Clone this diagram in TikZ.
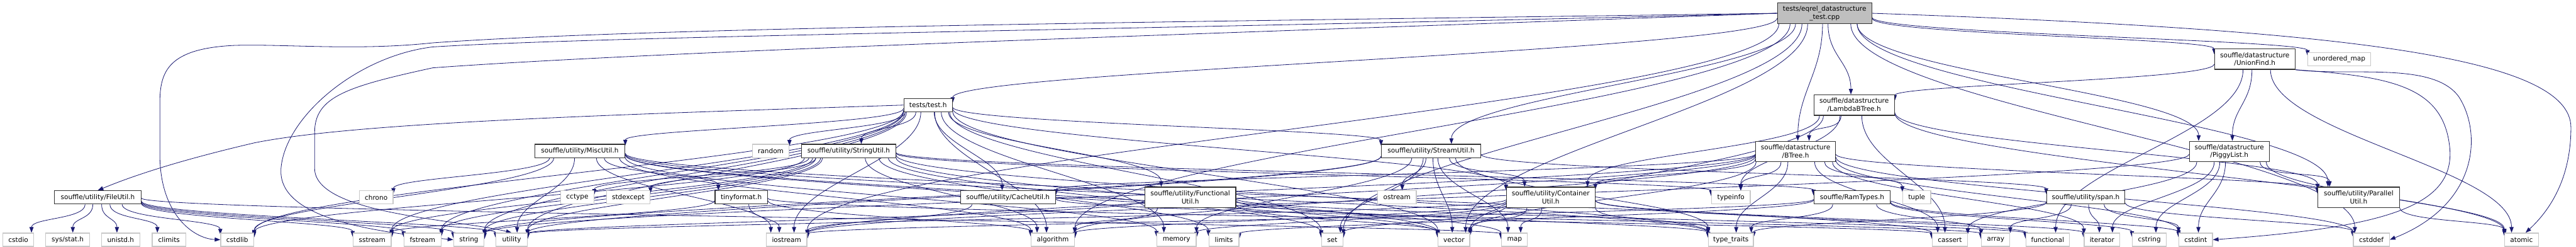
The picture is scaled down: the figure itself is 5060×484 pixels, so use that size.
\documentclass[tikz,border=0pt]{standalone}
\usepackage{fontspec}
\setmainfont{DejaVu Sans}
\usetikzlibrary{arrows.meta,calc}
\pgfdeclarelayer{bg}
\pgfsetlayers{bg,main}
\definecolor{edgec}{HTML}{191970}
\definecolor{sysc}{HTML}{C8C8C8}
\definecolor{rootc}{HTML}{BFBFBF}
\newcommand\nd[6]{\node[#1, minimum width=#4pt, minimum height=#5pt] (#2) at (#3) {#6};}
\begin{document}
\begin{tikzpicture}[x=1pt,y=-1pt,
  base/.style={rectangle, inner sep=0pt, font=\fontsize{13}{15.5}\selectfont, align=center, fill=white, line width=1.5pt},
  hdr/.style={base, draw=black!80},
  sys/.style={base, draw=sysc},
  rootbox/.style={base, draw=black!80, fill=rootc},
  e/.style={draw=edgec, line width=1pt, -{Triangle[length=11pt,width=8pt]}}
]
\useasboundingbox (0,0) rectangle (5060,484);
% rank 0-2
\nd{rootbox}{root}{3584,26}{185}{40}{tests/eqrel\_datastructure\\\_test.cpp}
\nd{hdr}{uf}{4429,116}{158}{40}{souffle/datastructure\\/UnionFind.h}
\nd{sys}{umap}{4595,116}{123}{26}{unordered\_map}
\nd{hdr}{test}{1823,206}{95}{26}{tests/test.h}
\nd{hdr}{lbt}{3642,206}{158}{40}{souffle/datastructure\\/LambdaBTree.h}
% rank 3
\nd{hdr}{misc}{1139,296}{177}{26}{souffle/utility/MiscUtil.h}
\nd{sys}{random}{1514,296}{72}{26}{random}
\nd{hdr}{stru}{1667,296}{185}{26}{souffle/utility/StringUtil.h}
\nd{hdr}{strm}{2811,296}{195}{26}{souffle/utility/StreamUtil.h}
\nd{hdr}{btree}{3527,297}{157}{40}{souffle/datastructure\\/BTree.h}
\nd{hdr}{piggy}{4379,297}{157}{40}{souffle/datastructure\\/PiggyList.h}
% rank 4
\nd{hdr}{file}{192,387}{170}{26}{souffle/utility/FileUtil.h}
\nd{sys}{chrono}{739,387}{66}{26}{chrono}
\nd{sys}{cctype}{1134,387}{65}{26}{cctype}
\nd{sys}{stdexc}{1234,387}{86}{26}{stdexcept}
\nd{hdr}{tiny}{1456,387}{103}{26}{tinyformat.h}
\nd{hdr}{cache}{1980,387}{187}{26}{souffle/utility/CacheUtil.h}
\nd{hdr}{func}{2338,387}{179}{40}{souffle/utility/Functional\\Util.h}
\nd{sys}{ostream}{2744,387}{76}{26}{ostream}
\nd{hdr}{cont}{3046,387}{174}{40}{souffle/utility/Container\\Util.h}
\nd{sys}{typeinfo}{3400,387}{76}{26}{typeinfo}
\nd{hdr}{ram}{3638,387}{150}{26}{souffle/RamTypes.h}
\nd{sys}{tuple}{3765,387}{55}{26}{tuple}
\nd{hdr}{span}{4097,387}{154}{26}{souffle/utility/span.h}
\nd{hdr}{par}{4633,387}{160}{40}{souffle/utility/Parallel\\Util.h}
% rank 5
\nd{sys}{cstdio}{36,470}{61}{26}{cstdio}
\nd{sys}{sysstat}{133,470}{86}{26}{sys/stat.h}
\nd{sys}{unistd}{237,470}{75}{26}{unistd.h}
\nd{sys}{climits}{332,470}{66}{26}{climits}
\nd{sys}{cstdlib}{466,470}{65}{26}{cstdlib}
\nd{sys}{sstream}{731,470}{75}{26}{sstream}
\nd{sys}{fstream}{830,470}{73}{26}{fstream}
\nd{sys}{string}{921,470}{60}{26}{string}
\nd{sys}{utility}{1005,470}{61}{26}{utility}
\nd{sys}{iostream}{1545,470}{80}{26}{iostream}
\nd{sys}{algorithm}{2068,470}{85}{26}{algorithm}
\nd{sys}{memory}{2311,470}{77}{26}{memory}
\nd{sys}{limits}{2404,470}{59}{26}{limits}
\nd{sys}{set}{2617,470}{42}{26}{set}
\nd{sys}{vector}{2856,470}{62}{26}{vector}
\nd{sys}{map}{2975,470}{51}{26}{map}
\nd{sys}{typetr}{3400,470}{88}{26}{type\_traits}
\nd{sys}{cassert}{3830,470}{69}{26}{cassert}
\nd{sys}{array}{3920,470}{56}{26}{array}
\nd{sys}{functional}{4022,470}{85}{26}{functional}
\nd{sys}{iterator}{4129,470}{70}{26}{iterator}
\nd{sys}{cstring}{4222,470}{67}{26}{cstring}
\nd{sys}{cstdint}{4313,470}{66}{26}{cstdint}
\nd{sys}{cstddef}{4658,470}{71}{26}{cstddef}
\nd{sys}{atomic}{4953,470}{66}{26}{atomic}
\begin{pgfonlayer}{bg}
% routed connectors
\draw[e] (root.west) .. controls (2400,42) and (1300,52) .. (850,84) .. controls (700,100) and (560,86) .. (461,89) .. controls (330,95) and (314,140) .. (314,202) -- (314,303) .. controls (314,420) and (380,468) .. (cstdlib.west);
\draw[e] (root.west) .. controls (2400,55) and (1200,70) .. (850,92) .. controls (700,110) and (560,230) .. (552,330) .. controls (545,420) and (700,452) .. (string.west);
\draw[e] (root.west) .. controls (2400,65) and (1300,100) .. (850,133) .. controls (680,170) and (618,190) .. (618,260) -- (618,330) .. controls (618,420) and (900,430) .. (utility.north);
\draw[e] (root.east) .. controls (4600,58) and (5050,110) .. (5050,250) .. controls (5050,360) and (5000,420) .. (atomic.60);
\draw[e] (uf.south east) .. controls (4620,150) and (4780,120) .. (4830,190) .. controls (4875,260) and (4870,400) .. (cstddef.east);
\draw[e] (uf.south east) .. controls (4700,150) and (4800,170) .. (4812,290) .. controls (4822,400) and (4700,445) .. (cstdint.east);
\draw[e] (test.west) .. controls (1200,225) and (700,240) .. (500,280) .. controls (350,315) and (260,345) .. (file.north);
% generic connectors
\foreach \s/\t in {
 root/test, root/btree, root/lbt, root/piggy, root/uf, root/par, root/strm, root/algorithm, root/cstddef, root/iostream, root/set, root/umap, root/vector,
 test/cont, test/misc, test/strm, test/stru, test/cache, test/func, test/algorithm, test/iostream, test/memory, test/random, test/set, test/sstream, test/string, test/utility, test/vector, test/cstdlib, test/fstream,
 file/cstdio, file/sysstat, file/unistd, file/climits, file/cstdlib, file/sstream, file/fstream, file/string, file/utility, file/map,
 misc/tiny, misc/cassert, misc/chrono, misc/iostream, misc/map, misc/memory, misc/typetr, misc/utility, misc/vector, misc/algorithm, misc/cstdlib,
 tiny/algorithm, tiny/cassert, tiny/iostream, tiny/sstream,
 stru/ram, stru/cctype, stru/stdexc, stru/algorithm, stru/cstdlib, stru/fstream, stru/limits, stru/set, stru/sstream, stru/string, stru/typetr, stru/typeinfo, stru/utility, stru/vector,
 strm/cont, strm/ostream, strm/set, strm/vector, strm/map, strm/memory, strm/string, strm/typetr, strm/utility, strm/span,
 cont/vector, cont/map, cont/set, cont/memory, cont/functional, cont/iterator, cont/typetr, cont/utility, cont/algorithm,
 cache/array, cache/iostream,
 func/algorithm, func/functional, func/typetr, func/utility, func/vector,
 btree/cache, btree/cont, btree/par, btree/algorithm, btree/cassert, btree/cstddef, btree/cstdint, btree/iostream, btree/iterator, btree/string, btree/tuple, btree/typetr, btree/typeinfo, btree/vector,
 lbt/btree, lbt/cont, lbt/par, lbt/atomic, lbt/cassert, lbt/typeinfo, lbt/vector,
 piggy/par, piggy/atomic, piggy/cassert, piggy/cstring, piggy/cstdint, piggy/iostream, piggy/iterator,
 uf/lbt, uf/piggy, uf/atomic, uf/functional,
 par/atomic,
 span/array, span/cstddef, span/cstdint, span/iterator, span/typetr,
 ram/cstdint, ram/cstring, ram/iostream, ram/limits, ram/typetr, ram/array}
{
 \draw[e] let \p1=(\s.center), \p2=(\t.center),
   \n1={atan2(\y2-\y1,\x2-\x1)}, \n3={\n1+180}, \n2={0.35*(\y1-\y2)} in
   (\s.\n1) .. controls +(0pt,-\n2) and +(0pt,\n2) .. (\t.\n3);
}
\end{pgfonlayer}
\end{tikzpicture}
\end{document}
